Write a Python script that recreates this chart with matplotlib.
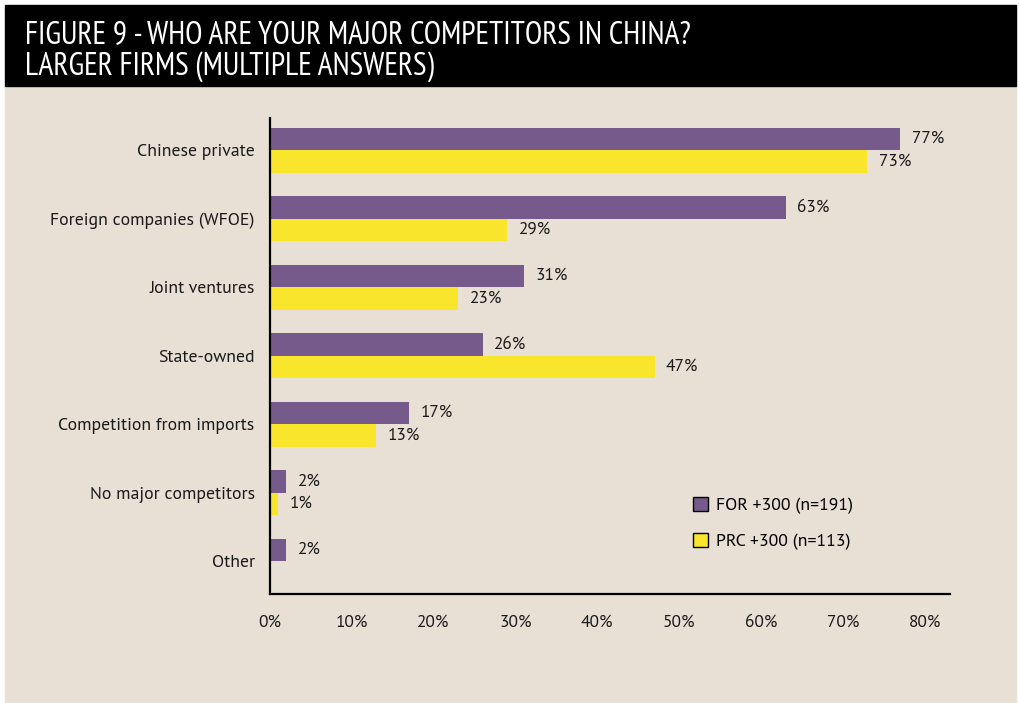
import matplotlib.pyplot as plt
from matplotlib.patches import Rectangle

categories = ['Chinese private', 'Foreign companies (WFOE)', 'Joint ventures',
              'State-owned', 'Competition from imports', 'No major competitors', 'Other']
for_values = [77, 63, 31, 26, 17, 2, 2]
prc_values = [73, 29, 23, 47, 13, 1, None]
series_names = ['FOR +300 (n=191)', 'PRC +300 (n=113)']
ticks = [0, 10, 20, 30, 40, 50, 60, 70, 80]

purple = '#765a8b'
yellow = '#f8e52c'
bg = '#e8e0d5'
txt = '#1a1a1a'

plt.rcParams['font.family'] = ['PT Sans', 'DejaVu Sans']
title_font = ['PT Sans Narrow', 'DejaVu Sans']

fig = plt.figure(figsize=(10.2, 7.03), dpi=100)
fig.patch.set_facecolor('white')

# background panels
fig.patches.append(Rectangle((5 / 1020, 0), 1011 / 1020, (703 - 86) / 703,
                             transform=fig.transFigure, color=bg, zorder=-5))
fig.patches.append(Rectangle((5 / 1020, (703 - 86) / 703), 1011 / 1020, 81 / 703,
                             transform=fig.transFigure, color='black', zorder=-5))
fig.text(25 / 1020, (703 - 35) / 703, 'FIGURE 9 - WHO ARE YOUR MAJOR COMPETITORS IN CHINA?',
         color='white', fontsize=22.8, family=title_font, va='center')
fig.text(25 / 1020, (703 - 67) / 703, 'LARGER FIRMS (MULTIPLE ANSWERS)',
         color='white', fontsize=22.8, family=title_font, va='center')

ax = fig.add_axes([270 / 1020, (703 - 594) / 703, 680 / 1020, 476 / 703])
ax.set_facecolor('none')
ax.set_zorder(2)

h = 0.33
off = 0.165
ys = list(range(len(categories)))
for i, y in enumerate(ys):
    v = for_values[i]
    ax.barh(y - off, v, height=h, color=purple, label=series_names[0] if i == 0 else None)
    ax.text(v + 1.4, y - off, f'{v}%', va='center', ha='left', fontsize=12.5, color=txt)
    p = prc_values[i]
    if p is not None:
        ax.barh(y + off, p, height=h, color=yellow, label=series_names[1] if i == 0 else None)
        ax.text(p + 1.4, y + off, f'{p}%', va='center', ha='left', fontsize=12.5, color=txt)

ax.set_xlim(0, 83.1)
ax.set_ylim(6.48, -0.47)
ax.set_yticks(ys)
ax.set_yticklabels(categories, fontsize=12.8, color=txt)
ax.set_xticks(ticks)
ax.set_xticklabels([f'{t}%' for t in ticks], fontsize=12.5, color=txt)
ax.tick_params(axis='both', length=0)
ax.tick_params(axis='x', pad=15)
ax.tick_params(axis='y', pad=11)
for s in ['top', 'right']:
    ax.spines[s].set_visible(False)
for s in ['left', 'bottom']:
    ax.spines[s].set_linewidth(1.6)
    ax.spines[s].set_color('black')

leg = ax.legend(loc='upper left', bbox_to_anchor=(677 / 1020, (703 - 481) / 703),
                bbox_transform=fig.transFigure, frameon=False, fontsize=12.8,
                handlelength=0.85, handleheight=0.85, handletextpad=0.45, labelspacing=1.05)
for hnd in leg.legend_handles:
    hnd.set_edgecolor('black')
    hnd.set_linewidth(1.0)

fig.savefig('out.png', dpi=100, facecolor=fig.get_facecolor())
